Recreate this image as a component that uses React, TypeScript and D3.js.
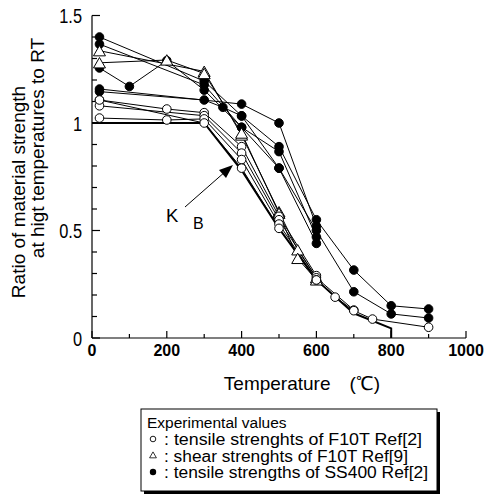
import React from "react";
import * as d3 from "d3";

// x: temperature (°C), y: ratio to RT
const xTicks = [0, 200, 400, 600, 800, 1000];
const yTickLabels = ["0", "0.5", "1", "1.5"];
const yTickValues = [0, 0.5, 1, 1.5];

// F10T tensile (open circles)
const open1: [number, number][] = [[20, 1.107], [200, 1.065], [300, 1.048], [400, 0.89], [500, 0.566], [600, 0.29]];
const open2: [number, number][] = [[20, 1.08], [300, 1.034], [400, 0.86], [500, 0.55], [600, 0.28], [700, 0.13]];
const open3: [number, number][] = [[20, 1.023], [200, 1.014], [300, 1.019], [400, 0.83], [500, 0.53], [600, 0.27]];
const open4: [number, number][] = [[20, 1.107], [300, 1.0], [400, 0.79], [500, 0.51], [600, 0.27], [650, 0.19], [700, 0.127], [750, 0.088], [900, 0.05]];

// F10T shear (triangles)
const tri1: [number, number][] = [[20, 1.336], [300, 1.24], [400, 0.944], [500, 0.587], [550, 0.41], [600, 0.28]];
const tri2: [number, number][] = [[20, 1.28], [200, 1.293], [300, 1.23], [400, 0.953], [500, 0.58], [550, 0.37], [600, 0.27]];

// SS400 tensile (filled circles)
const fill1: [number, number][] = [[20, 1.4], [300, 1.195], [400, 1.033], [500, 0.89], [600, 0.55], [700, 0.316], [800, 0.15], [900, 0.135]];
const fill2: [number, number][] = [[20, 1.367], [300, 1.177], [400, 0.98], [500, 0.79], [600, 0.5], [700, 0.215], [800, 0.112], [900, 0.093]];
const fill3: [number, number][] = [[20, 1.256], [100, 1.17], [200, 1.29], [300, 1.153], [400, 0.98], [500, 0.867], [600, 0.47]];
const fill4: [number, number][] = [[20, 1.158], [400, 1.088], [500, 1.0], [600, 0.52]];
const fill5: [number, number][] = [[20, 1.146], [300, 1.107], [350, 1.073], [400, 1.033], [500, 0.79], [600, 0.44]];

// K_B reduction curve (thick)
const kbCurve: [number, number][] = [[0, 1.0], [300, 1.0], [400, 0.78], [500, 0.51], [600, 0.27], [700, 0.115], [800, 0.045], [800, 0]];

const legendTitle = "Experimental values";
const legendItems = [
  { kind: "open", label: ": tensile strenghts of F10T Ref[2]", len: 258 },
  { kind: "tri", label: ": shear strenghts of F10T Ref[9]", len: 244 },
  { kind: "fill", label: ": tensile strengths of SS400 Ref[2]", len: 264 },
];

const openSeries = [open1, open2, open3, open4];
const triSeries = [tri1, tri2];
const fillSeries = [fill1, fill2, fill3, fill4, fill5];

const W = 488;
const H = 497;

export default function App() {
  const x = d3.scaleLinear().domain([0, 1000]).range([92, 466]);
  const y = d3.scaleLinear().domain([0, 1.5]).range([338, 15.5]);
  const line = d3
    .line<[number, number]>()
    .x((d) => x(d[0]))
    .y((d) => y(d[1]));

  const xMinor = d3.range(0, 1001, 100);
  const yMinor = d3.range(0, 1.501, 0.1);
  const tri = (cx: number, cy: number, s: number) =>
    `M${cx},${cy - s} L${cx + s * 0.95},${cy + s * 0.65} L${cx - s * 0.95},${cy + s * 0.65} Z`;

  const sans = "'Liberation Sans', Arial, sans-serif";

  const allLines = [...openSeries, ...triSeries, ...fillSeries];

  return (
    <svg width={W} height={H} style={{ position: "absolute", left: 0, top: 0, background: "#fff" }}>
      {/* data lines */}
      <g fill="none" stroke="#000" strokeWidth={1}>
        {allLines.map((s, i) => (
          <path key={i} d={line(s) || ""} />
        ))}
      </g>
      <path d={line(kbCurve) || ""} fill="none" stroke="#000" strokeWidth={2} />

      {/* axes */}
      <g stroke="#000" strokeWidth={1.2} fill="none">
        <line x1={92} y1={y(0)} x2={92} y2={y(1.5)} />
        <line x1={92} y1={y(0)} x2={x(1000)} y2={y(0)} />
        {xMinor.map((t) => (
          <line key={"xt" + t} x1={x(t)} x2={x(t)} y1={y(0)} y2={y(0) - (t % 200 === 0 ? 7 : 4)} />
        ))}
        {yMinor.map((v, i) => (
          <line key={"yt" + i} x1={92} x2={92 + (i % 5 === 0 ? 8 : 5)} y1={y(v)} y2={y(v)} />
        ))}
      </g>

      {/* markers */}
      {fillSeries.map((s, i) =>
        s.map((d, j) => <circle key={`f${i}-${j}`} cx={x(d[0])} cy={y(d[1])} r={4.3} fill="#000" stroke="#000" />)
      )}
      {triSeries.map((s, i) =>
        s.map((d, j) => (
          <path key={`t${i}-${j}`} d={tri(x(d[0]), y(d[1]) + 1, 6.3)} fill="#fff" stroke="#000" strokeWidth={1} />
        ))
      )}
      {openSeries.map((s, i) =>
        s.map((d, j) => (
          <circle key={`o${i}-${j}`} cx={x(d[0])} cy={y(d[1])} r={4.3} fill="#fff" stroke="#000" strokeWidth={1} />
        ))
      )}

      {/* tick labels (narrow) */}
      {yTickValues.map((v, i) => (
        <text
          key={"yl" + i}
          transform={`translate(82,${y(v)}) scale(0.78,1)`}
          dy="0.36em"
          textAnchor="end"
          fontFamily={sans}
          fontSize={21}
          fill="#000"
        >
          {yTickLabels[i]}
        </text>
      ))}
      {xTicks.map((t) => (
        <text key={"xl" + t} x={x(t)} y={356} textAnchor="middle" fontFamily={sans} fontWeight="bold" fontSize={16} fill="#000">
          {t}
        </text>
      ))}

      {/* axis titles */}
      <text transform={`translate(25,192) rotate(-90)`} textAnchor="middle" fontFamily={sans} fontSize={19} fill="#000">
        Ratio of material strength
      </text>
      <text transform={`translate(44,148) rotate(-90)`} textAnchor="middle" fontFamily={sans} fontSize={19} fill="#000">
        at higt temperatures to RT
      </text>
      <text x={302} y={390} textAnchor="middle" fontFamily={sans} fontSize={19} fill="#000" xmlSpace="preserve">
        {"Temperature\u3000(\u2103)"}
      </text>

      {/* K_B annotation */}
      <line x1={185} y1={207} x2={226} y2={171} stroke="#000" strokeWidth={1} />
      <path d="M233,165 L219,170 L226,178 Z" fill="#000" />
      <text x={166} y={222} fontFamily={sans} fontSize={18.5} fill="#000">K</text>
      <text x={193} y={228.5} fontFamily={sans} fontSize={16} fill="#000">B</text>

      {/* legend */}
      <rect x={144} y={412} width={296} height={82} fill="#000" />
      <rect x={141} y={409} width={296} height={82} fill="#fff" stroke="#000" strokeWidth={1} />
      <text x={147} y={428} fontFamily={sans} fontSize={15.5} fill="#000">{legendTitle}</text>
      {legendItems.map((it, i) => {
        const cy = 440 + i * 16.5;
        return (
          <g key={it.kind}>
            {it.kind === "open" && <circle cx={153} cy={cy - 1} r={2.8} fill="#fff" stroke="#000" strokeWidth={0.9} />}
            {it.kind === "tri" && <path d={tri(153, cy - 1, 3.6)} fill="#fff" stroke="#000" strokeWidth={0.8} />}
            {it.kind === "fill" && <circle cx={153} cy={cy - 1} r={3.2} fill="#000" />}
            <text
              x={164}
              y={cy + 5}
              fontFamily={sans}
              fontSize={16}
              textLength={it.len}
              lengthAdjust="spacingAndGlyphs"
              fill="#000"
            >
              {it.label}
            </text>
          </g>
        );
      })}
    </svg>
  );
}
